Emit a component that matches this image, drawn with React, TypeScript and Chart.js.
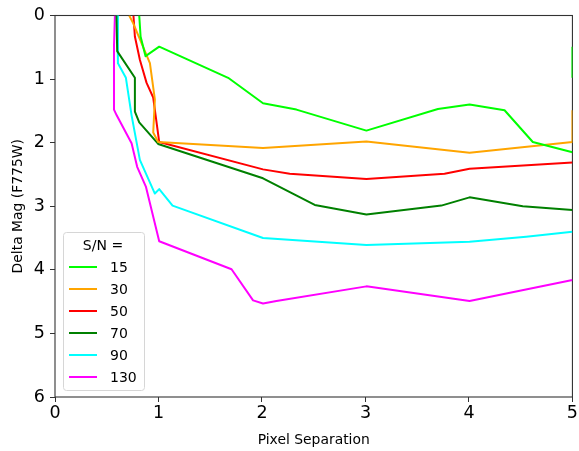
import React, { useEffect, useRef } from 'react';
import { Chart, registerables } from 'chart.js';
Chart.register(...registerables);

const seriesLabels = ['15', '30', '50', '70', '90', '130'];
const seriesColors = ['#00ff00', '#ffa500', '#ff0000', '#008000', '#00ffff', '#ff00ff'];

const sn15X = [0.814, 0.827, 0.875, 1.007, 1.673, 2.01, 2.333, 3.009, 3.70, 4.006, 4.344, 4.617, 5.0, 5.0, 5.0, 5.0];
const sn15Y = [0, 0.33, 0.64, 0.49, 0.98, 1.38, 1.48, 1.81, 1.47, 1.40, 1.49, 1.99, 2.15, null, 0.98, 0.49];

const sn30X = [0.717, 0.756, 0.917, 0.965, 0.949, 0.997, 2.01, 3.009, 4.006, 5.0, 5.0];
const sn30Y = [0, 0.124, 0.75, 1.32, 1.84, 1.99, 2.085, 1.98, 2.16, 1.99, 1.49];

const sn50X = [0.758, 0.772, 0.82, 0.885, 0.949, 1.007, 2.01, 2.268, 3.009, 3.764, 4.006, 5.0];
const sn50Y = [0, 0.33, 0.695, 1.06, 1.29, 1.99, 2.42, 2.49, 2.57, 2.49, 2.41, 2.31];

const sn70X = [0.594, 0.601, 0.772, 0.772, 0.814, 0.997, 2.01, 2.51, 3.009, 3.733, 4.006, 4.52, 5.0];
const sn70Y = [0, 0.56, 0.98, 1.51, 1.68, 2.02, 2.56, 2.98, 3.13, 2.99, 2.86, 3.0, 3.06];

const sn90X = [0.601, 0.608, 0.685, 0.74, 0.82, 0.965, 1.007, 1.136, 2.01, 3.009, 4.006, 4.553, 5.0];
const sn90Y = [0, 0.75, 0.98, 1.57, 2.27, 2.80, 2.73, 2.99, 3.50, 3.61, 3.56, 3.48, 3.40];

const sn130X = [0.579, 0.57, 0.57, 0.596, 0.74, 0.794, 0.878, 1.007, 1.706, 1.914, 2.01, 2.14, 3.009, 4.006, 5.0];
const sn130Y = [0, 0.48, 1.48, 1.57, 2.01, 2.38, 2.69, 3.55, 3.99, 4.48, 4.53, 4.49, 4.26, 4.49, 4.16];

const seriesX = [sn15X, sn30X, sn50X, sn70X, sn90X, sn130X];
const seriesY = [sn15Y, sn30Y, sn50Y, sn70Y, sn90Y, sn130Y];

const xTickValues = [0, 1, 2, 3, 4, 5];
const yTickValues = [0, 1, 2, 3, 4, 5, 6];

const legendTitle = 'S/N =';
const xTitle = 'Pixel Separation';
const yTitle = 'Delta Mag (F775W)';

const FONT = '"DejaVu Sans", sans-serif';

const framePlugin = {
  id: 'frame',
  beforeDatasetsDraw(chart: any) {
    const { ctx, chartArea } = chart;
    ctx.save();
    ctx.strokeStyle = '#333333';
    ctx.lineWidth = 1.1;
    ctx.strokeRect(chartArea.left, chartArea.top, chartArea.right - chartArea.left, chartArea.bottom - chartArea.top);
    ctx.restore();
  },
};

const legendPlugin = {
  id: 'boxLegend',
  afterDraw(chart: any) {
    const { ctx, chartArea } = chart;
    const x0 = chartArea.left + 8.5;
    const w = 81;
    const h = 158;
    const y0 = chartArea.bottom - 6.5 - h;
    ctx.save();
    ctx.beginPath();
    ctx.roundRect(x0, y0, w, h, 3);
    ctx.fillStyle = 'rgba(255,255,255,0.85)';
    ctx.fill();
    ctx.strokeStyle = '#d6d6d6';
    ctx.lineWidth = 1;
    ctx.stroke();
    ctx.font = `14px ${FONT}`;
    ctx.fillStyle = '#000';
    ctx.textBaseline = 'middle';
    ctx.textAlign = 'center';
    ctx.fillText(legendTitle, x0 + w / 2 - 1, y0 + 14);
    chart.data.datasets.forEach((ds: any, i: number) => {
      const y = y0 + 34.5 + i * 22;
      ctx.beginPath();
      ctx.strokeStyle = ds.borderColor;
      ctx.lineWidth = 2;
      ctx.moveTo(x0 + 5.5, y);
      ctx.lineTo(x0 + 33.5, y);
      ctx.stroke();
      ctx.textAlign = 'left';
      ctx.fillStyle = '#000';
      ctx.fillText(ds.label, x0 + 46.5, y + 1);
    });
    ctx.restore();
  },
};

export default function App() {
  const ref = useRef<HTMLCanvasElement | null>(null);
  useEffect(() => {
    if (!ref.current) return;
    const datasets = seriesLabels.map((label, i) => ({
      label,
      data: seriesX[i].map((x, j) => ({ x, y: seriesY[i][j] })),
      borderColor: seriesColors[i],
      backgroundColor: seriesColors[i],
      borderWidth: 2,
      pointRadius: 0,
      tension: 0,
      spanGaps: false,
      fill: false,
      borderJoinStyle: 'round' as const,
    }));
    const chart = new Chart(ref.current, {
      type: 'line',
      data: { datasets },
      plugins: [framePlugin, legendPlugin],
      options: {
        animation: false,
        responsive: false,
        devicePixelRatio: 1,
        layout: { padding: { top: 12, right: 6, left: 0, bottom: 0 } },
        plugins: { legend: { display: false }, tooltip: { enabled: false } },
        scales: {
          x: {
            type: 'linear',
            min: 0,
            max: 5,
            afterFit: (s: any) => { s.height = 54; },
            afterBuildTicks: (s: any) => { s.ticks = xTickValues.map((v) => ({ value: v })); },
            border: { display: false },
            grid: { display: true, drawOnChartArea: false, drawTicks: true, tickLength: 5, color: '#333333', lineWidth: 1 },
            ticks: { color: '#000', font: { family: FONT, size: 17.5 }, padding: 1, maxRotation: 0 },
            title: { display: true, text: xTitle, color: '#000', font: { family: FONT, size: 13.9 }, padding: { top: 4, bottom: 2.5 } },
          },
          y: {
            type: 'linear',
            reverse: true,
            min: 0,
            max: 6,
            afterFit: (s: any) => { s.width = 55; },
            afterBuildTicks: (s: any) => { s.ticks = yTickValues.map((v) => ({ value: v })); },
            border: { display: false },
            grid: { display: true, drawOnChartArea: false, drawTicks: true, tickLength: 5, color: '#333333', lineWidth: 1 },
            ticks: { color: '#000', font: { family: FONT, size: 17.5 }, padding: 5 },
            title: { display: true, text: yTitle, color: '#000', font: { family: FONT, size: 13.9 }, padding: { top: 10, bottom: 0 } },
          },
        },
      },
    });
    return () => chart.destroy();
  }, []);
  return (
    <div style={{ position: 'fixed', left: 0, top: 0, width: 579, height: 451, background: '#fff' }}>
      <canvas ref={ref} width={579} height={451} style={{ display: 'block' }} />
    </div>
  );
}
